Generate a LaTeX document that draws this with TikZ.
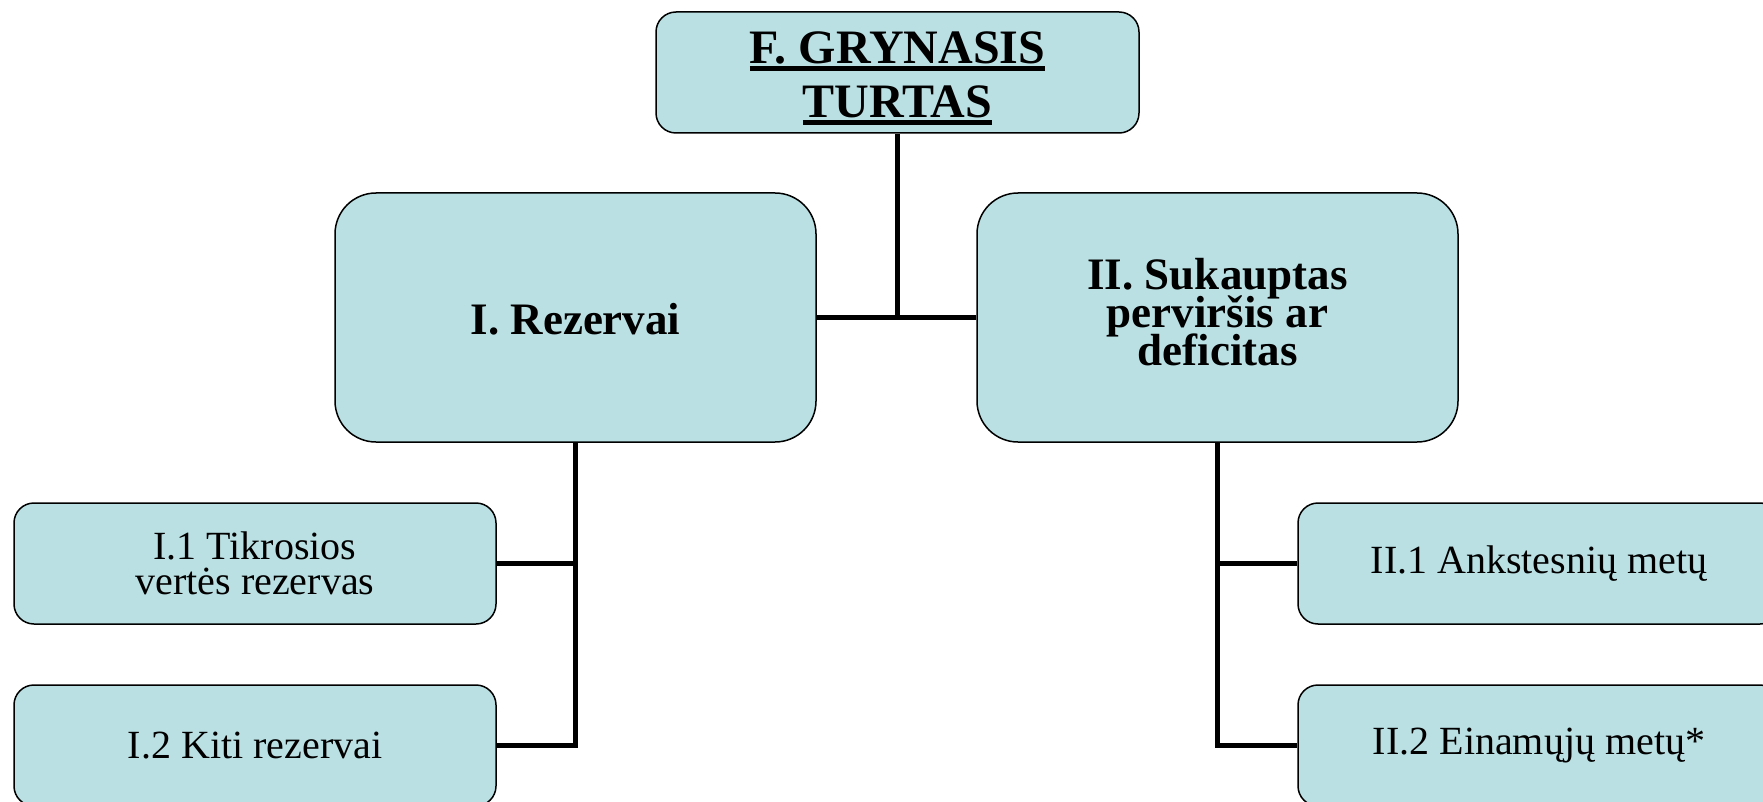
\documentclass[tikz,border=0pt]{standalone}
\usepackage{fontspec}
\setmainfont{Liberation Serif}
\definecolor{boxfill}{RGB}{186,224,227}
\newcommand{\myul}[1]{\leavevmode\setbox0=\hbox{#1}\rlap{\rule[-7pt]{\wd0}{4.5pt}}\box0}
\newcommand{\tightlines}{\lineskiplimit=-60pt\relax}
\begin{document}
\begin{tikzpicture}[x=1pt,y=-1pt,
  boxbase/.style={draw=black, line width=1.5pt, fill=boxfill, align=center, inner sep=0pt, text=black},
  smallbox/.style={boxbase, minimum width=482pt, minimum height=121pt, rounded corners=20pt, font={\fontsize{40}{35}\selectfont\tightlines}},
  bigbox/.style={boxbase, minimum width=481pt, minimum height=249pt, rounded corners=41pt, font={\fontsize{45}{38}\selectfont\bfseries\tightlines}},
  titlebox/.style={boxbase, minimum width=483pt, minimum height=121pt, rounded corners=20pt, font={\fontsize{48}{54}\selectfont\bfseries\tightlines}},
  conn/.style={line width=5pt, black}]
\useasboundingbox (0,0) rectangle (1763,802);
\clip (0,0) rectangle (1763,802);

\node[titlebox] (top) at (897.5,72.5) {\rule{0pt}{44pt}\myul{F. GRYNASIS}\\\myul{TURTAS}};
\node[bigbox] (rez) at (575.5,317.5) {\rule{0pt}{34pt}I. Rezervai};
\node[bigbox] (suk) at (1217.5,317.5) {II. Sukauptas\\perviršis ar\\deficitas\rule[-11pt]{0pt}{1pt}};
\node[smallbox] (i1) at (255,563.5) {I.1 Tikrosios\\vertės rezervas};
\node[smallbox] (i2) at (255,745.5) {I.2 Kiti rezervai};
\node[smallbox] (ii1) at (1539,563.5) {II.1 Ankstesnių metų};
\node[smallbox] (ii2) at (1539,745.5) {II.2 Einamųjų metų*};

\draw[conn] (rez.east) -- (suk.west);
\draw[conn] (top.south) -- (top.south |- rez.east);
\draw[conn] (rez.south) |- (i2.east);
\draw[conn] (i1.east) -- (i1.east -| rez.south);
\draw[conn] (suk.south) |- (ii2.west);
\draw[conn] (ii1.west) -- (ii1.west -| suk.south);
\end{tikzpicture}
\end{document}
